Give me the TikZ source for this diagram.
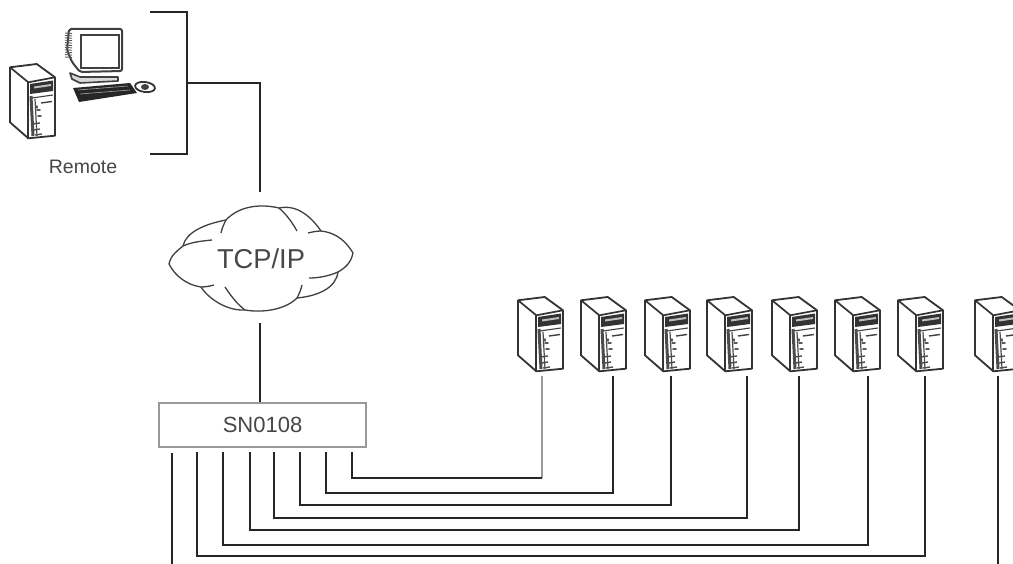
\documentclass[tikz,border=0pt]{standalone}
\usepackage{fontspec}
\setmainfont{Liberation Sans}
\tikzset{
  conn/.style={line width=1.4pt,draw=black!85},
  connlight/.style={line width=1.8pt,draw=black!40},
  sketch/.style={line width=1.3pt,draw=black!75,line join=round},
  label/.style={inner sep=0pt,text=black!72},
  tower/.pic={
    \draw[line width=1.8pt,draw=black!80,line join=round,fill=white]
      (0,3.3)--(26.7,0)--(45,13.3)--(45,71.7)--(18.3,74.3)--(0,58.3)--cycle;
    \draw[line width=1.7pt,draw=black!80] (0,3.3)--(18.3,18.3)--(45,13.3);
    \draw[line width=1.8pt,draw=black!80] (18.3,18.3)--(18.3,74.3);
    \fill[black!80] (20,20)--(43,16.5)--(43,27)--(20,30)--cycle;
    \fill[black!25] (24,22.5)--(41,20)--(41,22)--(24,24.5)--cycle;
    \draw[line width=1.1pt,black!75] (22,34)--(43,31);
    \draw[line width=1.4pt,black!75] (31,39)--(42,37.5);
    \draw[line width=3pt,black!70] (21,32)--(23,72);
    \draw[line width=1.4pt,black!70] (23,60)--(30,59) (24,66)--(30,65) (25,71)--(32,70);
    \draw[line width=1.5pt,black!65,line cap=round] (27,46)--(30,46) (28,52)--(31,52) (27,42)--(27,44);
    \draw[line width=1.2pt,black!70] (25,35)--(27,72);
  },
}
\begin{document}
\begin{tikzpicture}[x=1pt,y=-1pt]
\path[use as bounding box,fill=white] (0,0) rectangle (1013,564);
\clip (0,0) rectangle (1013,564);
% remote
\pic at (10,64) {tower};
\draw[line width=2pt,black!75,rounded corners=2pt,fill=white] (69,29)--(122,29)--(122,71)--(80,72)--(72,62)--(67,50)--cycle;
\fill[white] (81,35) rectangle (119,68);
\draw[line width=1.3pt,black!75] (81,35) rectangle (119,68);
\foreach \i in {0,...,10}{\draw[line width=.9pt,black!65] (65,{33+\i*2.4})--(72,{33.5+\i*2.4});}
\draw[sketch,line width=1.6pt,fill=black!15] (70,73)--(80,77)--(118,77)--(118,81)--(80,83)--(72,79)--cycle;
\fill[black!85] (73,88)--(130,83)--(137,93)--(79,102)--cycle;
\draw[line width=.6pt,black!35] (78,90)--(128,86) (80,94)--(130,90);
\draw[line width=1.8pt,black!80,fill=white,rotate around={-8:(145,87)}] (145,87) ellipse (10 and 5);
\fill[black!75] (145,87) ellipse (4 and 3);
\node[label,font=\fontsize{19.5}{22}\selectfont] (remote) at (83,167) {Remote};
% bracket
\coordinate (brT0) at (150,12);
\coordinate (brT) at (187,12);
\coordinate (brM) at (187,83);
\coordinate (brB) at (187,154);
\coordinate (brB0) at (150,154);
\coordinate (linkCorner) at (260,83);
\draw[conn] (brT0)--(brT)--(brB)--(brB0);
% cloud
\draw[sketch,fill=white] (169,264)
  .. controls (171,255) and (177,251) .. (183,246)
  .. controls (186,232) and (205,224) .. (226,220)
  .. controls (240,205) and (262,204) .. (279,208)
  .. controls (298,204) and (312,218) .. (321,231)
  .. controls (338,233) and (347,243) .. (353,253)
  .. controls (351,263) and (345,268) .. (338,272)
  .. controls (336,288) and (318,296) .. (297,298)
  .. controls (285,310) and (262,313) .. (245,310)
  .. controls (226,311) and (208,298) .. (201,287)
  .. controls (187,285) and (175,276) .. (169,264) -- cycle;
\draw[sketch] (183,246) .. controls (192,242) and (202,241) .. (212,240)
  (221,233) .. controls (222,228) and (224,224) .. (226,220)
  (279,208) .. controls (286,214) and (292,222) .. (297,231)
  (308,233) .. controls (312,232) and (317,231) .. (321,231)
  (338,272) .. controls (329,276) and (319,278) .. (309,278)
  (302,285) .. controls (301,290) and (299,294) .. (297,298)
  (245,310) .. controls (237,304) and (231,296) .. (225,287)
  (201,287) .. controls (206,287) and (210,286) .. (214,285);
\node[label,font=\fontsize{27.3}{30}\selectfont] (cloud) at (261,259) {TCP/IP};
\coordinate (cloudT) at (260,192);
\coordinate (cloudB) at (260,323);
\draw[conn] (brM)--(linkCorner)--(cloudT);
% switch
\node[draw=black!40,line width=1.6pt,fill=white,minimum width=207pt,minimum height=44pt,inner sep=0pt,text=black!72,font=\fontsize{22}{24}\selectfont] (sn) at (262.5,425) {SN0108};
\draw[conn] (cloudB)--(sn.north -| cloudB);
% servers
\foreach \n/\x in {1/518,2/581,3/645,4/707,5/772,6/835,7/898,8/975}{\pic at (\x,297) {tower};}
\foreach \n/\x in {1/542,2/613,3/671,4/747,5/799,6/868,7/925,8/998}{\coordinate (s\n) at (\x,376);}
\foreach \n/\x in {1/352,2/326,3/300,4/274,5/250,6/223,7/197}{\coordinate (p\n) at (\x,452);}
\coordinate (p8) at (172,453);
\coordinate (e8a) at (172,564);
\coordinate (e8b) at (998,564);
\coordinate (c1) at (542,478);
\draw[connlight] (s1)--(c1);
\draw[conn] (p1)--(p1 |- c1)--(c1);
\draw[conn] (p2)--(p2 |- 0,493)--(s2 |- 0,493)--(s2);
\draw[conn] (p3)--(p3 |- 0,505)--(s3 |- 0,505)--(s3);
\draw[conn] (p4)--(p4 |- 0,518)--(s4 |- 0,518)--(s4);
\draw[conn] (p5)--(p5 |- 0,530)--(s5 |- 0,530)--(s5);
\draw[conn] (p6)--(p6 |- 0,545)--(s6 |- 0,545)--(s6);
\draw[conn] (p7)--(p7 |- 0,556)--(s7 |- 0,556)--(s7);
\draw[conn] (p8)--(e8a);
\draw[conn] (s8)--(e8b);
\end{tikzpicture}
\end{document}
